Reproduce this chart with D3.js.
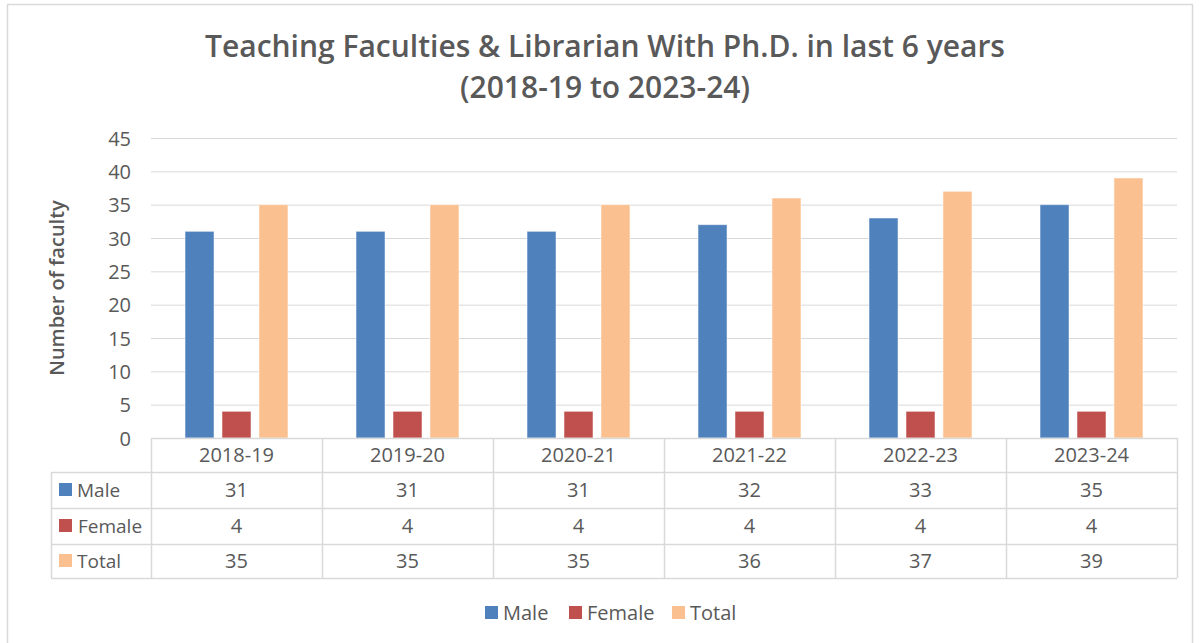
<!DOCTYPE html>
<html>
<head>
<meta charset="utf-8">
<script src="https://cdn.jsdelivr.net/npm/d3@7"></script>
<style>
  body { margin: 0; background: #fff; }
  svg text { font-family: "Open Sans", "Noto Sans", sans-serif; fill: #595959; }
</style>
</head>
<body>
<svg id="chart" width="1200" height="643"></svg>
<script>
const years = ["2018-19", "2019-20", "2020-21", "2021-22", "2022-23", "2023-24"];
const seriesNames = ["Male", "Female", "Total"];
const male = [31, 31, 31, 32, 33, 35];
const female = [4, 4, 4, 4, 4, 4];
const total = [35, 35, 35, 36, 37, 39];
const yTicks = [0, 5, 10, 15, 20, 25, 30, 35, 40, 45];
const seriesColors = ["#4F81BD", "#C0504D", "#FAC090"];

const seriesValues = [male, female, total];

const svg = d3.select("#chart"),
    width = +svg.attr("width"),
    height = +svg.attr("height");

// outer frame
svg.append("rect")
    .attr("x", 7.5).attr("y", 4.5)
    .attr("width", 1185).attr("height", 640)
    .attr("fill", "#fff")
    .attr("stroke", "#d9d9d9")
    .attr("stroke-width", 1.5);

// title
const title = svg.append("text")
    .attr("text-anchor", "middle")
    .attr("font-size", 30)
    .attr("font-weight", 600);
title.append("tspan").attr("x", 605).attr("y", 57).text("Teaching Faculties & Librarian  With Ph.D. in last 6 years");
title.append("tspan").attr("x", 605).attr("y", 98).text("(2018-19 to 2023-24)");

const plot = { left: 151, right: 1177, top: 138, bottom: 438 };

const x = d3.scaleBand().domain(years).range([plot.left, plot.right]);
const xInner = d3.scaleBand().domain(seriesNames)
    .range([0, x.bandwidth()]).paddingInner(0.216).paddingOuter(0.92);
const y = d3.scaleLinear().domain([0, 45]).range([plot.bottom, plot.top]);

// gridlines
svg.append("g")
    .selectAll("line")
    .data(yTicks.filter(t => t > 0))
    .enter()
    .append("line")
    .attr("x1", plot.left).attr("x2", plot.right)
    .attr("y1", d => y(d) + 0.5).attr("y2", d => y(d) + 0.5)
    .attr("stroke", "#d9d9d9")
    .attr("stroke-width", 1);

// y axis labels
const yAxis = svg.append("g")
    .attr("transform", "translate(" + (plot.left - 20) + ",0)")
    .call(d3.axisLeft(y).tickValues(yTicks).tickSize(0).tickPadding(0));
yAxis.select(".domain").remove();
yAxis.selectAll("text")
    .attr("font-size", 20)
    .attr("dy", "0.35em")
    .style("font-family", '"Open Sans", "Noto Sans", sans-serif')
    .attr("fill", "#595959");

svg.append("text")
    .attr("transform", "translate(64,288) rotate(-90)")
    .attr("text-anchor", "middle")
    .attr("font-size", 20)
    .attr("font-weight", 600)
    .text("Number of faculty");

// bars
const group = svg.append("g")
    .selectAll("g")
    .data(years)
    .enter()
    .append("g")
    .attr("transform", d => "translate(" + x(d) + ",0)");

group.selectAll("rect")
    .data((d, i) => seriesNames.map((s, j) => ({ series: s, value: seriesValues[j][i], color: seriesColors[j] })))
    .enter()
    .append("rect")
    .attr("x", d => xInner(d.series))
    .attr("y", d => y(d.value))
    .attr("width", xInner.bandwidth())
    .attr("height", d => y(0) - y(d.value))
    .attr("fill", d => d.color)
    .attr("stroke", "#fff")
    .attr("stroke-opacity", 0.5)
    .attr("stroke-width", 1);

// data table
const tableLeft = 51;
const rowEdges = [438, 472, 508, 544, 578];
const gridColor = "#d9d9d9";
const table = svg.append("g");

// horizontal lines
rowEdges.forEach((ry, i) => {
    table.append("line")
        .attr("x1", i === 0 ? plot.left : tableLeft).attr("x2", plot.right)
        .attr("y1", ry + 0.5).attr("y2", ry + 0.5)
        .attr("stroke", gridColor).attr("stroke-width", 1.5);
});
// vertical lines
table.append("line")
    .attr("x1", tableLeft + 0.5).attr("x2", tableLeft + 0.5)
    .attr("y1", rowEdges[1]).attr("y2", rowEdges[4])
    .attr("stroke", gridColor).attr("stroke-width", 1.5);
years.concat(["end"]).forEach(yr => {
    const vx = yr === "end" ? plot.right : x(yr);
    table.append("line")
        .attr("x1", vx + 0.5).attr("x2", vx + 0.5)
        .attr("y1", rowEdges[0]).attr("y2", rowEdges[4])
        .attr("stroke", gridColor).attr("stroke-width", 1.5);
});

// header
table.selectAll(".hdr")
    .data(years)
    .enter()
    .append("text")
    .attr("x", d => x(d) + x.bandwidth() / 2)
    .attr("y", (rowEdges[0] + rowEdges[1]) / 2)
    .attr("dy", "0.36em")
    .attr("text-anchor", "middle")
    .attr("font-size", 20)
    .text(d => d);

// rows
seriesNames.forEach((s, j) => {
    const cy = (rowEdges[j + 1] + rowEdges[j + 2]) / 2;
    table.append("rect")
        .attr("x", 59).attr("y", cy - 7)
        .attr("width", 13).attr("height", 13)
        .attr("fill", seriesColors[j]);
    table.append("text")
        .attr("x", s === "Female" ? 78 : 77).attr("y", cy)
        .attr("dy", "0.36em")
        .attr("font-size", 19)
        .text(s);
    table.selectAll(".v" + j)
        .data(seriesValues[j])
        .enter()
        .append("text")
        .attr("x", (d, i) => x(years[i]) + x.bandwidth() / 2)
        .attr("y", cy)
        .attr("dy", "0.36em")
        .attr("text-anchor", "middle")
        .attr("font-size", 20)
        .text(d => d);
});

// bottom legend
const legendX = [485, 569, 672];
const legend = svg.append("g")
    .selectAll("g")
    .data(seriesNames)
    .enter()
    .append("g")
    .attr("transform", (d, i) => "translate(" + legendX[i] + ",606)");

legend.append("rect")
    .attr("width", 13).attr("height", 13)
    .attr("fill", (d, i) => seriesColors[i]);

legend.append("text")
    .attr("x", 18)
    .attr("y", 7)
    .attr("dy", "0.36em")
    .attr("font-size", 20)
    .text(d => d);
</script>
</body>
</html>
